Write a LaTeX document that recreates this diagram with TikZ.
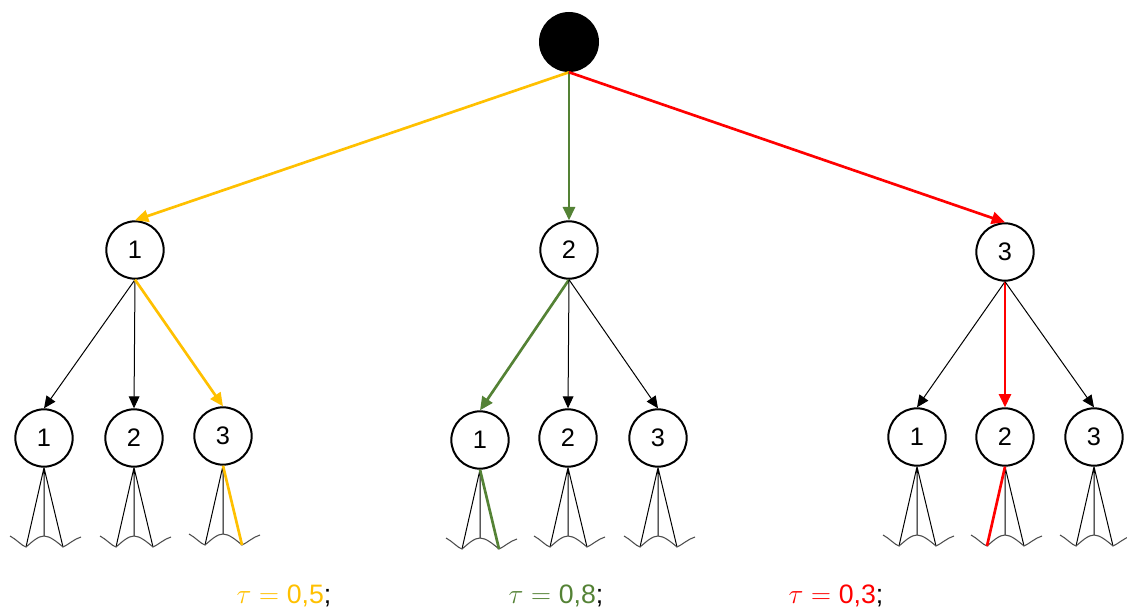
\documentclass[tikz,border=0pt]{standalone}
\usepackage{fontspec}
\setmainfont{Liberation Sans}
\usetikzlibrary{arrows.meta}

\definecolor{gold}{RGB}{255,192,0}
\definecolor{leaf}{RGB}{84,130,53}
\definecolor{hot}{RGB}{255,0,0}

\tikzset{
	state/.style={circle,draw,line width=1.5pt,minimum size=43pt,inner sep=0pt,
		font=\fontsize{19}{22}\selectfont},
	edge/.style={-{Triangle[length=9pt,width=8pt]},line width=0.75pt},
	chosen/.style={-{Triangle[length=10pt,width=9pt]},line width=2pt},
	fanline/.style={line width=0.75pt},
	wave/.style={line width=0.8pt,draw=black!70},
	tau/.style={anchor=base,font=\fontsize{20}{24}\selectfont},
}

\begin{document}
\begin{tikzpicture}[x=0.75pt,y=0.75pt,yscale=-1,xscale=1]
	\useasboundingbox (0,0) rectangle (1127,616);
	
	% Root
	\node[circle,fill=black,minimum size=45pt,inner sep=0pt] (root) at (569,42) {};
	
	% First level
	\node[state] (a) at (135,250) {1};
	\node[state] (b) at (569,250) {2};
	\node[state] (c) at (1005,252) {3};
	
	% Second level
	\node[state] (a1) at (44,438) {1};
	\node[state] (a2) at (134,438) {2};
	\node[state] (a3) at (223,436) {3};
	\node[state] (b1) at (480,440) {1};
	\node[state] (b2) at (568,438) {2};
	\node[state] (b3) at (658,438) {3};
	\node[state] (c1) at (917,437) {1};
	\node[state] (c2) at (1005,437) {2};
	\node[state] (c3) at (1094,437) {3};
	
	% Subtrees hanging below the leaves
	\foreach \n/\x/\y in {a1/44/438,a2/134/438,a3/223/436,b1/480/440,b2/568/438,
		b3/658/438,c1/917/437,c2/1005/437,c3/1094/437} {
		\coordinate (\n-l) at ({\x-18},{\y+109});
		\coordinate (\n-m) at (\x,{\y+98});
		\coordinate (\n-r) at ({\x+19},{\y+109});
		\draw[fanline] (\n.south) -- (\n-l) (\n.south) -- (\n-m) (\n.south) -- (\n-r);
		\draw[wave] ({\x-34},{\y+98}) .. controls ({\x-28},{\y+101}) and ({\x-22},{\y+108}) .. (\n-l)
			.. controls ({\x-12},{\y+104}) and ({\x-6},{\y+98}) .. (\n-m)
			.. controls ({\x+6},{\y+98}) and ({\x+13},{\y+104}) .. (\n-r)
			.. controls ({\x+24},{\y+107}) and ({\x+30},{\y+101}) .. ({\x+37},{\y+99});
	}
	
	% Root to first level
	\draw[chosen,gold] (root.south) -- (a.north);
	\draw[chosen,leaf] (root.south) -- (b.north);
	\draw[chosen,hot] (root.south) -- (c.north);
	
	% First to second level
	\draw[edge] (a.south) -- (a1.north);
	\draw[edge] (a.south) -- (a2.north);
	\draw[chosen,gold] (a.south) -- (a3.north);
	\draw[chosen,leaf] (b.south) -- (b1.north);
	\draw[edge] (b.south) -- (b2.north);
	\draw[edge] (b.south) -- (b3.north);
	\draw[edge] (c.south) -- (c1.north);
	\draw[chosen,hot] (c.south) -- (c2.north);
	\draw[edge] (c.south) -- (c3.north);
	
	% Continued paths
	\draw[gold,line width=2pt] (a3.south) -- (a3-r);
	\draw[leaf,line width=2pt] (b1.south) -- (b1-r);
	\draw[hot,line width=2pt] (c2.south) -- (c2-l);
	
	% Labels
	\node[tau,text=gold] (tauA) at (284,603) {$\tau = {}$0,5\textcolor{black}{;}};
	\node[tau,text=leaf] (tauB) at (556,603) {$\tau = {}$0,8\textcolor{black}{;}};
	\node[tau,text=hot] (tauC) at (836,603) {$\tau = {}$0,3\textcolor{black}{;}};
	
\end{tikzpicture}
\end{document}
